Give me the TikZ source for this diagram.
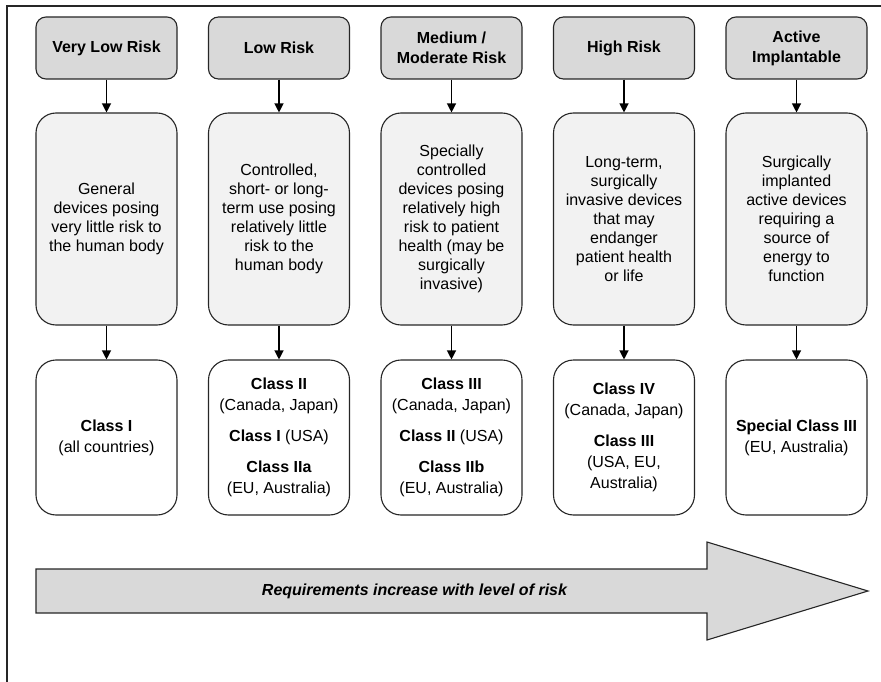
\documentclass[tikz,border=0pt]{standalone}
\usepackage{fontspec}
\setmainfont{Liberation Sans}
\usetikzlibrary{arrows.meta}
\begin{document}
\begin{tikzpicture}[x=1pt,y=-1pt,>={Triangle[length=9pt,width=9pt]}]

\tikzset{riskbox/.style={rectangle,rounded corners=10pt,minimum width=141pt,minimum height=62pt,inner sep=0pt,draw=black!85,line width=1.1pt,fill=gray!30,align=center,font=\fontsize{16pt}{20pt}\selectfont\bfseries},}
\tikzset{descbox/.style={rectangle,rounded corners=20pt,minimum width=141pt,minimum height=212pt,inner sep=0pt,draw=black!85,line width=1.1pt,fill=gray!10,align=center,font=\fontsize{16pt}{19pt}\selectfont},}
\tikzset{classbox/.style={rectangle,rounded corners=20pt,minimum width=141pt,minimum height=155pt,inner sep=0pt,draw=black!85,line width=1.1pt,fill=white,align=center,font=\fontsize{16pt}{21pt}\selectfont},}
\tikzset{label/.style={inner sep=0pt,font=\fontsize{16pt}{19pt}\selectfont\bfseries\itshape},}

\useasboundingbox (0,0) rectangle (881,682);
\draw[black!85,line width=1.5pt] (7,682) -- (7,6) -- (881,6);

%VERY LOW
\draw (106.5,48) node [riskbox] (risk1) {Very Low Risk};
\draw (106.5,219) node [descbox] (desc1) {General\\devices posing\\very little risk to\\the human body};
\draw (106.5,437.5) node [classbox] (class1) {\textbf{Class I}\\(all countries)};

\draw[->,line width=1.2pt] (risk1) -- (desc1);
\draw[->,line width=1.2pt] (desc1) -- (class1);

%LOW
\draw (279,48) node [riskbox] (risk2) {Low Risk};
\draw (279,219) node [descbox] (desc2) {Controlled,\\short- or long-\\term use posing\\relatively little\\risk to the\\human body};
\draw (279,437.5) node [classbox] (class2) {\textbf{Class II}\\(Canada, Japan)\\[10pt]\textbf{Class I} (USA)\\[10pt]\textbf{Class IIa}\\(EU, Australia)};

\draw[->,line width=1.2pt] (risk2) -- (desc2);
\draw[->,line width=1.2pt] (desc2) -- (class2);

%MEDIUM
\draw (451.5,48) node [riskbox] (risk3) {Medium /\\Moderate Risk};
\draw (451.5,219) node [descbox] (desc3) {Specially\\controlled\\devices posing\\relatively high\\risk to patient\\health (may be\\surgically\\invasive)};
\draw (451.5,437.5) node [classbox] (class3) {\textbf{Class III}\\(Canada, Japan)\\[10pt]\textbf{Class II} (USA)\\[10pt]\textbf{Class IIb}\\(EU, Australia)};

\draw[->,line width=1.2pt] (risk3) -- (desc3);
\draw[->,line width=1.2pt] (desc3) -- (class3);

%HIGH
\draw (624,48) node [riskbox] (risk4) {High Risk};
\draw (624,219) node [descbox] (desc4) {Long-term,\\surgically\\invasive devices\\that may\\endanger\\patient health\\or life};
\draw (624,437.5) node [classbox] (class4) {\textbf{Class IV}\\(Canada, Japan)\\[10pt]\textbf{Class III}\\(USA, EU,\\Australia)};

\draw[->,line width=1.2pt] (risk4) -- (desc4);
\draw[->,line width=1.2pt] (desc4) -- (class4);

%ACTIVE
\draw (796.5,48) node [riskbox] (risk5) {Active\\Implantable};
\draw (796.5,219) node [descbox] (desc5) {Surgically\\implanted\\active devices\\requiring a\\source of\\energy to\\function};
\draw (796.5,437.5) node [classbox] (class5) {\textbf{Special Class III}\\(EU, Australia)};

\draw[->,line width=1.2pt] (risk5) -- (desc5);
\draw[->,line width=1.2pt] (desc5) -- (class5);

%ARROW
\draw[black!85,line width=1.1pt,fill=gray!30] (36,569) -- (707,569) -- (707,542) -- (868,591) -- (707,640) -- (707,613) -- (36,613) -- cycle;
\draw (414.5,591) node[label] (req) {Requirements increase with level of risk};

\end{tikzpicture}
\end{document}
